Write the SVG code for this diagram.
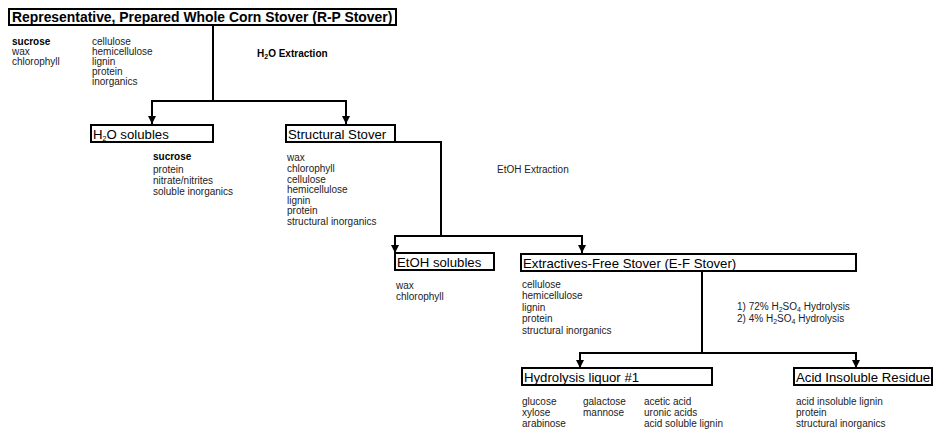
<svg xmlns="http://www.w3.org/2000/svg" width="933" height="431" viewBox="0 0 933 431">
<defs>
<style>
text{font-family:"Liberation Sans",Arial,sans-serif;fill:#000}
.box{fill:#fff;stroke:#000;stroke-width:2}
.lbl{font-size:13.2px}
.ttl{font-size:13.9px;font-weight:bold}
.li{font-size:10px;fill:#222}
.b{font-weight:bold;fill:#000}
.ln{fill:none;stroke:#000;stroke-width:2}
.sub{font-size:7px}
</style>
<marker id="ah" viewBox="0 0 8 8" refX="8" refY="4" markerWidth="8" markerHeight="8" markerUnits="userSpaceOnUse" orient="auto-start-reverse">
<path d="M0,0 L8,4 L0,8 Z" fill="#000"/>
</marker>
</defs>
<rect width="933" height="431" fill="#fff"/>
<g id="connectors">
<path class="ln" d="M213,25 V101"/>
<path class="ln" d="M152,124 V101 H346 V124" marker-start="url(#ah)" marker-end="url(#ah)"/>
<path class="ln" d="M395,142 H441 V236"/>
<path class="ln" d="M395,253 V236 H582 V253" marker-start="url(#ah)" marker-end="url(#ah)"/>
<path class="ln" d="M702,271 V353"/>
<path class="ln" d="M580,368 V353 H856 V368" marker-start="url(#ah)" marker-end="url(#ah)"/>
</g>
<g id="rp-stover">
<rect class="box" x="9" y="9" width="387" height="16"/>
<text class="ttl" x="12" y="22">Representative, Prepared Whole Corn Stover (R-P Stover)</text>
<text class="li b" x="12" y="45">sucrose</text>
<text class="li" x="12" y="55">wax</text>
<text class="li" x="12" y="65">chlorophyll</text>
<text class="li" x="92" y="45">cellulose</text>
<text class="li" x="92" y="55">hemicellulose</text>
<text class="li" x="92" y="65">lignin</text>
<text class="li" x="92" y="75">protein</text>
<text class="li" x="92" y="85">inorganics</text>
</g>
<g id="h2o-extraction">
<text class="li b" x="257" y="57">H<tspan class="sub" dy="2">2</tspan><tspan dy="-2">O Extraction</tspan></text>
</g>
<g id="h2o-solubles">
<rect class="box" x="91" y="125" width="122" height="17"/>
<text class="lbl" x="93" y="138.5">H<tspan class="sub" dy="2">2</tspan><tspan dy="-2">O solubles</tspan></text>
<text class="li b" x="153" y="159.5">sucrose</text>
<text class="li" x="153" y="172.5">protein</text>
<text class="li" x="153" y="183.5">nitrate/nitrites</text>
<text class="li" x="153" y="194.5">soluble inorganics</text>
</g>
<g id="structural-stover">
<rect class="box" x="286" y="125" width="109" height="17"/>
<text class="lbl" x="288" y="138.5">Structural Stover</text>
<text class="li" x="287" y="160.5">wax</text>
<text class="li" x="287" y="171.5">chlorophyll</text>
<text class="li" x="287" y="182.5">cellulose</text>
<text class="li" x="287" y="192.5">hemicellulose</text>
<text class="li" x="287" y="203.5">lignin</text>
<text class="li" x="287" y="213.5">protein</text>
<text class="li" x="287" y="224.5">structural inorganics</text>
</g>
<g id="etoh-extraction">
<text class="li" x="497" y="172.5">EtOH Extraction</text>
</g>
<g id="etoh-solubles">
<rect class="box" x="395" y="253" width="99" height="17"/>
<text class="lbl" x="397" y="266.5">EtOH solubles</text>
<text class="li" x="396" y="288.5">wax</text>
<text class="li" x="396" y="299.5">chlorophyll</text>
</g>
<g id="ef-stover">
<rect class="box" x="521" y="254" width="335" height="17"/>
<text class="lbl" x="523" y="267.5">Extractives-Free Stover (E-F Stover)</text>
<text class="li" x="522" y="287.5">cellulose</text>
<text class="li" x="522" y="298.5">hemicellulose</text>
<text class="li" x="522" y="310.5">lignin</text>
<text class="li" x="522" y="321.5">protein</text>
<text class="li" x="522" y="333.5">structural inorganics</text>
</g>
<g id="acid-hydrolysis">
<text class="li" x="737" y="309.5">1) 72% H<tspan class="sub" dy="2">2</tspan><tspan dy="-2">SO</tspan><tspan class="sub" dy="2">4</tspan><tspan dy="-2"> Hydrolysis</tspan></text>
<text class="li" x="737" y="321.5">2) 4% H<tspan class="sub" dy="2">2</tspan><tspan dy="-2">SO</tspan><tspan class="sub" dy="2">4</tspan><tspan dy="-2"> Hydrolysis</tspan></text>
</g>
<g id="hydrolysis-liquor">
<rect class="box" x="522" y="368" width="190" height="17"/>
<text class="lbl" x="524" y="381.5">Hydrolysis liquor #1</text>
<text class="li" x="522" y="404.5">glucose</text>
<text class="li" x="522" y="415.5">xylose</text>
<text class="li" x="522" y="426.5">arabinose</text>
<text class="li" x="583" y="404.5">galactose</text>
<text class="li" x="583" y="415.5">mannose</text>
<text class="li" x="644" y="404.5">acetic acid</text>
<text class="li" x="644" y="415.5">uronic acids</text>
<text class="li" x="644" y="426.5">acid soluble lignin</text>
</g>
<g id="acid-insoluble-residue">
<rect class="box" x="794" y="368" width="138" height="17"/>
<text class="lbl" x="796" y="381.5">Acid Insoluble Residue</text>
<text class="li" x="796" y="404.5">acid insoluble lignin</text>
<text class="li" x="796" y="415.5">protein</text>
<text class="li" x="796" y="426.5">structural inorganics</text>
</g>
</svg>
